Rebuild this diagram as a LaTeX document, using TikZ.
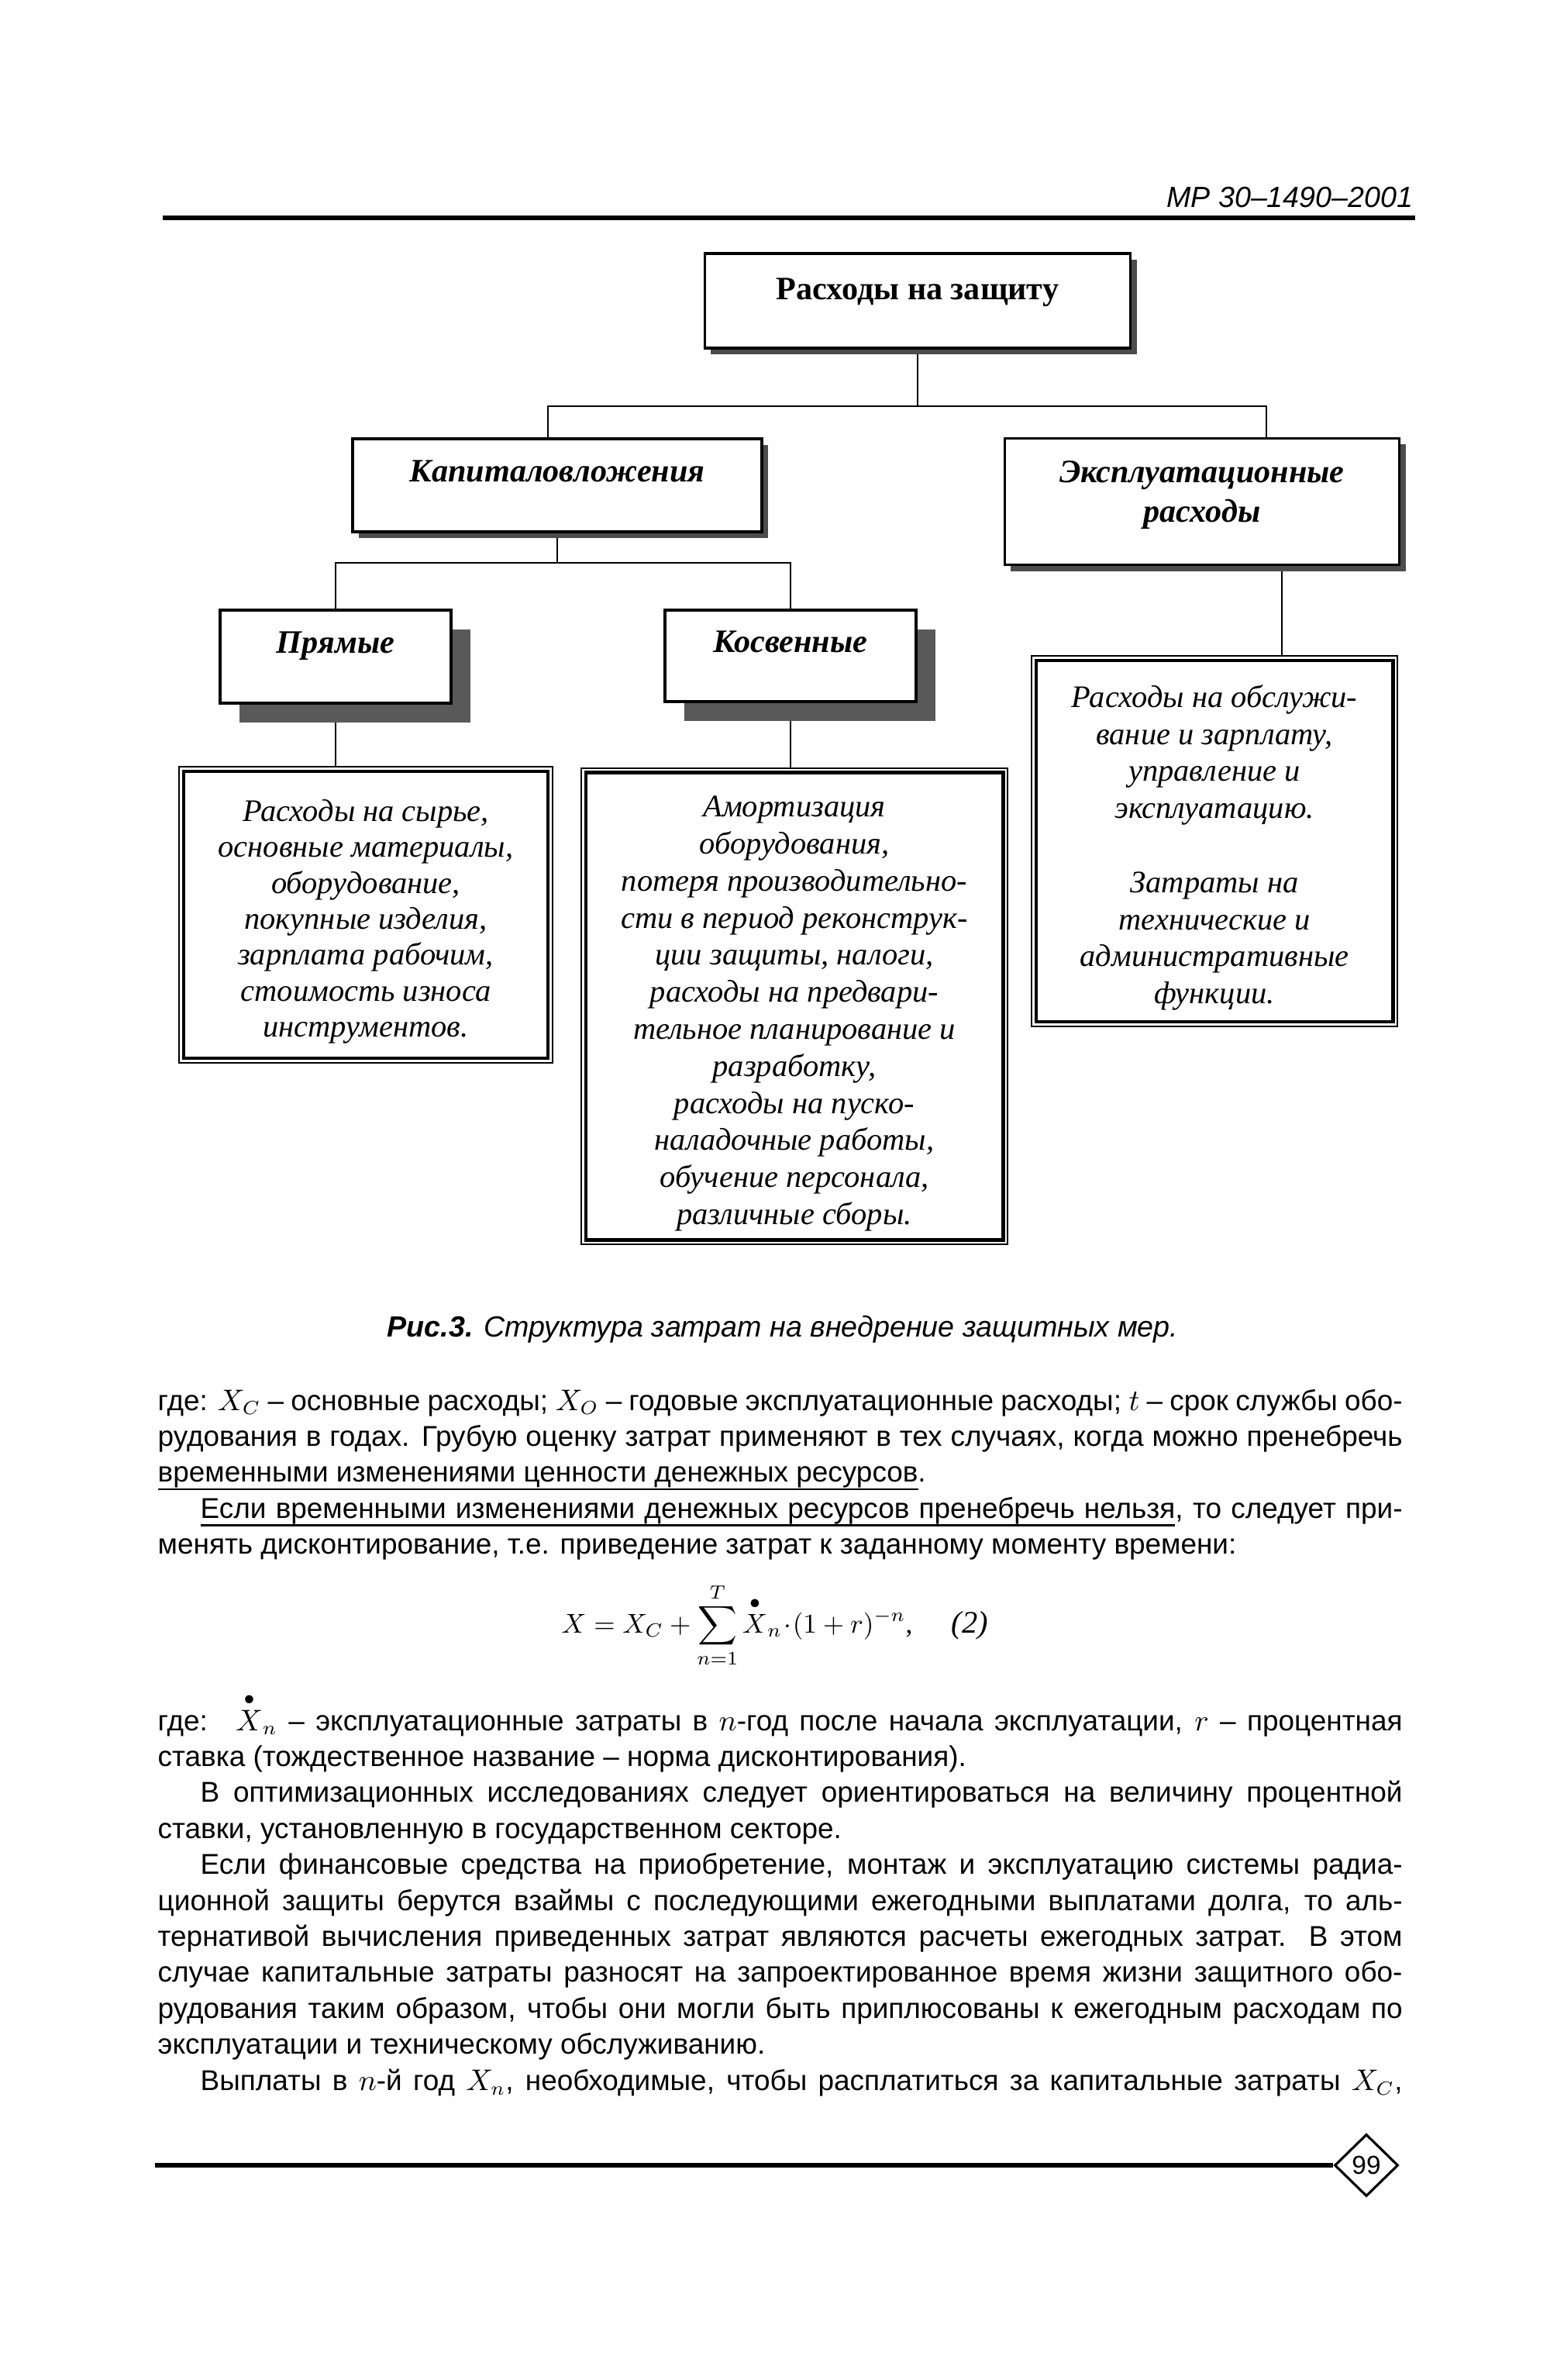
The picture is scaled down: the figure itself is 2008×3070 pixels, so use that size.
\documentclass[tikz,border=0pt]{standalone}
\usepackage{fontspec}
\setmainfont{Liberation Serif}
\setsansfont{Liberation Sans}
\usepackage{amsmath}
\usetikzlibrary{positioning, shapes.geometric, shadows, backgrounds}
\newcommand{\dotX}{\smash{\overset{\bullet}{X}}}
\newcommand{\parset}{\tolerance=9999\relax\hyphenpenalty=10000\relax\emergencystretch=1em\relax}
\newcommand{\topstrut}{\rule{0pt}{13pt}}
\newcommand{\lowstrut}{\rule[-7.6pt]{0pt}{7.6pt}}
% underlined word and underlined (stretchable) space
\newcommand{\uw}[1]{\setbox0=\hbox{#1}\rlap{\vrule height -2.2pt depth 3.0pt width \wd0}\box0}
\newcommand{\us}{\leaders\hrule height -2.2pt depth 3.0pt\hskip\fontdimen2\font plus\fontdimen3\font minus\fontdimen4\font\relax}

\begin{document}
\begin{tikzpicture}[x=0.01cm, y=-0.01cm,
    boxbase/.style={rectangle, draw, line width=1pt, fill=white, align=center,
      font=\fontsize{12}{14.5}\selectfont\bfseries\itshape},
    hdr/.style={boxbase, drop shadow={shadow xshift=0.08cm, shadow yshift=-0.08cm,
      fill=black!70, opacity=1}},
    sub/.style={boxbase, drop shadow={shadow xshift=0.25cm, shadow yshift=-0.25cm,
      fill=black!65, opacity=1}},
    txtbox/.style={rectangle, draw, line width=0.6pt, fill=white, align=center,
      font=\fontsize{11.5}{13.6}\selectfont\itshape},
    frame/.style={line width=1.3pt},
    conn/.style={line width=0.7pt},
    body/.style={inner sep=0pt, text width=16.05cm, align=justify,
      font=\sffamily\fontsize{10.5}{13.2}\selectfont\parset},
    rule/.style={line width=1.7pt}]
  \useasboundingbox (0,0) rectangle (2008,3070);

  % header
  \node[anchor=base east, inner sep=0pt, font=\sffamily\itshape\fontsize{10.7}{12}\selectfont]
    (doc) at (1824,268) {МР 30–1490–2001};
  \draw[rule] (210,281) -- (1826,281);

  % tree
  \node[hdr, font=\fontsize{12}{14.5}\selectfont\bfseries, minimum width=5.49cm,
    minimum height=1.22cm, text depth=0.31cm] (ras) at (1184,388) {Расходы на защиту};
  \node[hdr, minimum width=5.28cm, minimum height=1.20cm, text depth=0.37cm]
    (kap) at (719,626) {Капиталовложения};
  \node[hdr, minimum width=5.09cm, minimum height=1.63cm]
    (exp) at (1551,647) {Эксплуатационные\\расходы\lowstrut};
  \node[sub, minimum width=2.98cm, minimum height=1.20cm, text depth=0.36cm]
    (prm) at (433,847) {Прямые};
  \node[sub, minimum width=3.24cm, minimum height=1.18cm, text depth=0.36cm]
    (ksv) at (1020,846) {Косвенные};

  \node[txtbox, minimum width=4.82cm, minimum height=3.82cm,
    font=\fontsize{11.5}{13.2}\selectfont\itshape] (ltxt) at (472,1180)
    {\topstrut Расходы на сырье,\\основные материалы,\\оборудование,\\покупные изделия,\\
     зарплата рабочим,\\стоимость износа\\инструментов.};
  \node[txtbox, minimum width=5.50cm, minimum height=6.14cm] (mtxt) at (1025,1298)
    {\topstrut Амортизация\\оборудования,\\потеря производительно-\\сти в период реконструк-\\
     ции защиты, налоги,\\расходы на предвари-\\тельное планирование и\\разработку,\\
     расходы на пуско-\\наладочные работы,\\обучение персонала,\\различные сборы.};
  \node[txtbox, minimum width=4.72cm, minimum height=4.78cm] (rtxt) at (1567,1085)
    {\topstrut Расходы на обслужи-\\вание и  зарплату,\\управление и\\эксплуатацию.\\[13.6pt]
     Затраты на\\технические и\\административные\\функции.};
  \foreach \b in {ltxt,mtxt,rtxt}
    \draw[frame] ([shift={(7,7)}]\b.north west) rectangle ([shift={(-7,-7)}]\b.south east);

  \begin{scope}[on background layer]
    \fill[white] (0,0) rectangle (2008,3070);
    \draw[conn] (ras.south) -- ++(0,73) -| ([xshift=-0.12cm]kap.north);
    \draw[conn] (ras.south) -- ++(0,73) -| ([xshift=0.83cm]exp.north);
    \draw[conn] (kap.south) -- ++(0,38) -| (prm.north);
    \draw[conn] (kap.south) -- ++(0,38) -| (ksv.north);
    \draw[conn] (prm.south) -- (prm.south |- ltxt.north);
    \draw[conn] (ksv.south) -- (ksv.south |- mtxt.north);
    \draw[conn] ([xshift=1.03cm]exp.south) -- ([xshift=1.03cm]exp.south |- rtxt.north);
  \end{scope}

  % caption
  \node[anchor=base, inner sep=0pt, font=\sffamily\itshape\fontsize{10.7}{13}\selectfont]
    (cap) at (1010,1724) {\textbf{Рис.3.} Структура затрат на внедрение защитных мер.};

  % text
  \node[body, anchor=base west] (parA) at (203,1819)
    {где: $X_C$ – основные расходы; $X_O$ – годовые эксплуатационные расходы; $t$ – срок службы обо-\linebreak
     рудования в годах. Грубую оценку затрат применяют в тех случаях, когда можно пренебречь\linebreak
     \uw{временными}\us\uw{изменениями}\us\uw{ценности}\us\uw{денежных}\us\uw{ресурсов}.\par
     \hspace*{0.55cm}\uw{Если}\us\uw{временными}\us\uw{изменениями}\us\uw{денежных}\us\uw{ресурсов}\us\uw{пренебречь}\us\uw{нельзя}, то следует при-\linebreak
     менять дисконтирование, т.е. приведение затрат к заданному моменту времени:};
  \node[anchor=base west, inner sep=0pt, font=\fontsize{10}{12}\selectfont] (frm) at (724,2106)
    {$\displaystyle X = X_C + \sum_{n=1}^{T} \overset{\bullet}{X}_n \!\cdot\! (1+r)^{-n}$,};
  \node[anchor=base west, inner sep=0pt, font=\fontsize{11.5}{13}\selectfont\itshape] (eqn) at (1227,2106) {(2)};
  \node[body, anchor=base west] (parB) at (203,2232)
    {где: \ $\dotX_n$ – эксплуатационные затраты в $n$-год после начала эксплуатации, $r$ – процентная\linebreak
     ставка (тождественное название – норма дисконтирования).\par
     \hspace*{0.55cm}В оптимизационных исследованиях следует ориентироваться на величину процентной\linebreak
     ставки, установленную в государственном секторе.\par
     \hspace*{0.55cm}Если финансовые средства на приобретение, монтаж и эксплуатацию системы радиа-\linebreak
     ционной защиты берутся взаймы с последующими ежегодными выплатами долга, то аль-\linebreak
     тернативой вычисления приведенных затрат являются расчеты ежегодных затрат. В этом\linebreak
     случае капитальные затраты разносят на запроектированное время жизни защитного обо-\linebreak
     рудования таким образом, чтобы они могли быть приплюсованы к ежегодным расходам по\linebreak
     эксплуатации и техническому обслуживанию.\par
     \hspace*{0.55cm}Выплаты в $n$-й год $X_n$, необходимые, чтобы расплатиться за капитальные затраты $X_C$,\parfillskip=0pt\par};

  % footer
  \node[diamond, draw, line width=0.9pt, fill=white, inner sep=0pt, minimum width=0.82cm,
    minimum height=0.80cm, font=\sffamily\fontsize{9.5}{11}\selectfont] (pg) at (1763,2793) {99};
  \draw[rule] (200,2793) -- (pg.west);
\end{tikzpicture}
\end{document}
